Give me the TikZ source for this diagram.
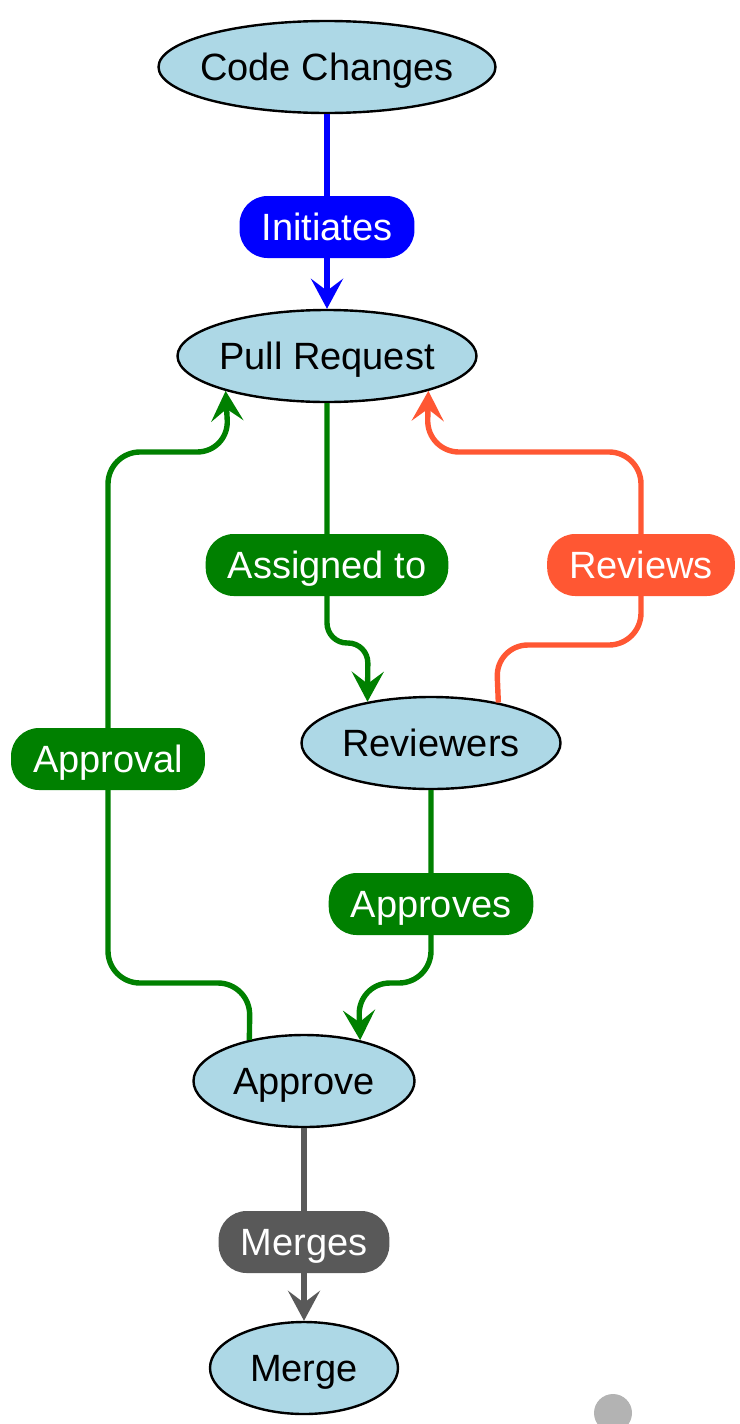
\documentclass[tikz,border=0pt]{standalone}
\usepackage{fontspec}
\setmainfont{Liberation Sans}
\usetikzlibrary{arrows.meta,shapes.geometric}
\definecolor{nodeblue}{HTML}{ADD8E6}
\definecolor{flowgreen}{HTML}{008000}
\definecolor{flowred}{HTML}{FF5733}
\definecolor{flowgray}{HTML}{595959}
\definecolor{dotgray}{HTML}{B3B3B3}
\newcommand{\ctr}[1]{\makebox[0pt]{#1}}

\begin{document}
\begin{tikzpicture}[x=0.5pt,y=-0.5pt,
    stage/.style={ellipse,draw=black,line width=1.2pt,fill=nodeblue,inner sep=0pt,
        minimum height=46pt,text height=13.7pt,text depth=0pt,font=\fontsize{19}{23}\selectfont},
    edgetag/.style={rounded corners=14pt,fill=#1,text=white,minimum height=31pt,
        inner xsep=11pt,inner ysep=0pt,text height=13.7pt,text depth=0pt,font=\fontsize{19}{23}\selectfont},
    flow/.style={draw=#1,line width=2.7pt,rounded corners=16pt,
        -{Stealth[length=15pt,width=16pt,inset=6pt]}}]
    \useasboundingbox (0,0) rectangle (739,1424);

    \node[stage,minimum width=168.5pt] (cc) at (327,67) {\ctr{Code Changes}};
    \node[stage,minimum width=149.5pt] (pr) at (327,356) {\ctr{Pull Request}};
    \node[stage,minimum width=129.5pt] (rv) at (431,743) {\ctr{Reviewers}};
    \node[stage,minimum width=110.5pt] (ap) at (304,1081) {\ctr{Approve}};
    \node[stage,minimum width=94pt] (mg) at (304,1368) {\ctr{Merge}};

    % connectors
    \draw[flow=blue] (cc) -- (pr);
    \draw[flow=flowgreen,rounded corners=10pt] (pr.south) -- (327,643) -- (368,643) -- (rv.147.5);
    \draw[flow=flowred] (rv.31.5) -- (496,645) -- (641,645) -- (641,452) -- (427,452) -- (pr.341.1);
    \draw[flow=flowgreen] (ap.143.4) -- (250,983) -- (108,983) -- (108,452) -- (229,452) -- (pr.199.5);
    \draw[flow=flowgreen] (rv.south) -- (431,983) -- (358,983) -- (ap.36.6);
    \draw[flow=flowgray] (ap) -- (mg);

    % labels
    \node[edgetag=blue] (t1) at (327,227) {Initiates};
    \node[edgetag=flowgreen] (t2) at (327,565) {Assigned to};
    \node[edgetag=flowred] (t3) at (641,565) {Reviews};
    \node[edgetag=flowgreen] (t4) at (108,759) {Approval};
    \node[edgetag=flowgreen] (t5) at (431,904) {Approves};
    \node[edgetag=flowgray] (t6) at (304,1242) {Merges};

    \fill[dotgray] (613,1413) circle (9.5pt);
\end{tikzpicture}
\end{document}
